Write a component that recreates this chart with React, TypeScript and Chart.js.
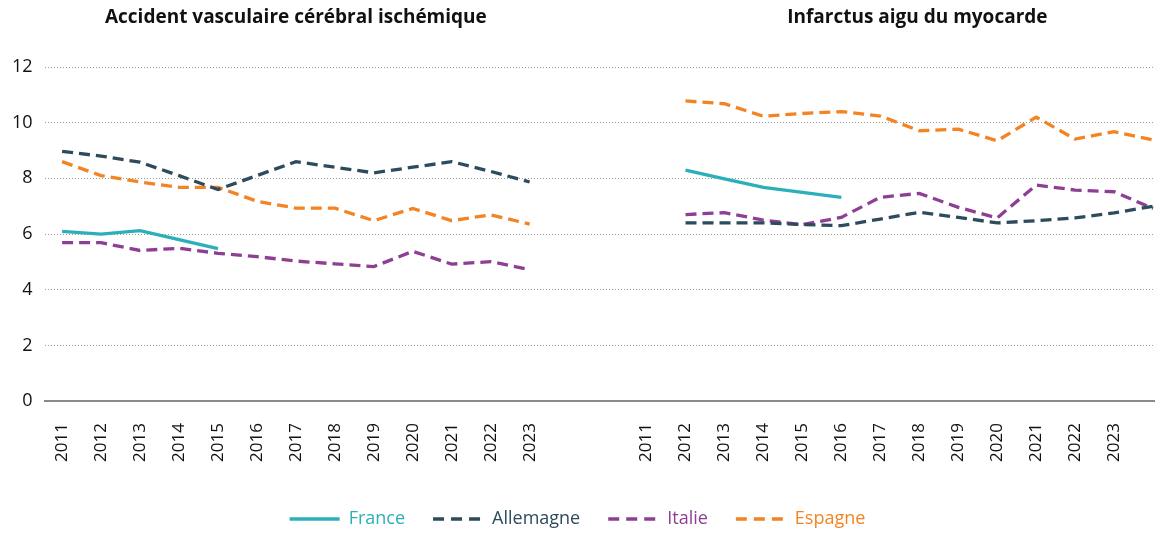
import React, { useEffect, useRef } from 'react';
import { Chart, registerables } from 'chart.js';

Chart.register(...registerables);

const years = ['2011', '2012', '2013', '2014', '2015', '2016', '2017', '2018', '2019', '2020', '2021', '2022', '2023'];
// x-axis category labels: left panel, 2 empty gap slots, right panel, one trailing unlabeled slot
const xLabels = [...years, '', '', ...years, ''];
const panelTitles = ['Accident vasculaire cérébral ischémique', 'Infarctus aigu du myocarde'];
const panelTitleCenters = [6, 21.95];
const yTicks = [0, 2, 4, 6, 8, 10, 12];

// Accident vasculaire cérébral ischémique (starts at 2011)
const franceAVC = [6.1, 6.0, 6.12, 5.8, 5.48];
const allemagneAVC = [8.97, 8.8, 8.58, 8.1, 7.6, 8.1, 8.6, 8.4, 8.2, 8.4, 8.6, 8.25, 7.87];
const italieAVC = [5.69, 5.69, 5.41, 5.49, 5.31, 5.19, 5.03, 4.93, 4.83, 5.38, 4.92, 5.01, 4.72];
const espagneAVC = [8.6, 8.1, 7.87, 7.68, 7.68, 7.18, 6.93, 6.93, 6.48, 6.92, 6.48, 6.69, 6.36];

// Infarctus aigu du myocarde (plotted from the 2nd slot of the right panel)
const franceIAM = [8.3, 7.98, 7.68, 7.5, 7.32];
const allemagneIAM = [6.4, 6.4, 6.4, 6.34, 6.3, 6.54, 6.78, 6.6, 6.4, 6.48, 6.58, 6.76, 7.0];
const italieIAM = [6.7, 6.77, 6.5, 6.34, 6.6, 7.32, 7.46, 6.96, 6.58, 7.76, 7.58, 7.52, 6.92];
const espagneIAM = [10.78, 10.68, 10.23, 10.33, 10.4, 10.24, 9.71, 9.77, 9.35, 10.2, 9.41, 9.68, 9.38];

const leftStartIndex = 0;
const rightStartIndex = 16;

const FONT = '"Open Sans", "Noto Sans", sans-serif';

const series = [
  { name: 'France', left: franceAVC, right: franceIAM, color: '#2BB0B9', dash: [] as number[] },
  { name: 'Allemagne', left: allemagneAVC, right: allemagneIAM, color: '#2D4B5B', dash: [11, 6] },
  { name: 'Italie', left: italieAVC, right: italieIAM, color: '#8E3F94', dash: [11, 6] },
  { name: 'Espagne', left: espagneAVC, right: espagneIAM, color: '#F28423', dash: [11, 6] },
];

function buildPoints(left: number[], right: number[]) {
  const pts: { x: number; y: number | null }[] = [];
  left.forEach((v, i) => pts.push({ x: leftStartIndex + i, y: v }));
  pts.push({ x: 14, y: null });
  right.forEach((v, i) => pts.push({ x: rightStartIndex + i, y: v }));
  return pts;
}

const titlePlugin = {
  id: 'panelTitles',
  afterDraw(chart: any) {
    const { ctx } = chart;
    const xs = chart.scales.x;
    ctx.save();
    ctx.font = `bold 19px ${FONT}`;
    ctx.fillStyle = '#111';
    ctx.textAlign = 'center';
    ctx.textBaseline = 'middle';
    panelTitles.forEach((t, i) => {
      ctx.fillText(t, xs.getPixelForValue(panelTitleCenters[i]), 18);
    });
    ctx.restore();
  },
};

export default function App() {
  const ref = useRef<HTMLCanvasElement>(null);
  useEffect(() => {
    if (!ref.current) return;
    const chart = new Chart(ref.current, {
      type: 'line',
      data: {
        datasets: series.map((s) => ({
          label: s.name,
          data: buildPoints(s.left, s.right),
          borderColor: s.color,
          backgroundColor: s.color,
          borderWidth: 3.3,
          borderDash: s.dash,
          pointRadius: 0,
          pointHoverRadius: 0,
          tension: 0,
          spanGaps: false,
          fill: false,
        })),
      },
      options: {
        animation: false,
        responsive: true,
        maintainAspectRatio: false,
        layout: { padding: { top: 67, right: 0, left: 0, bottom: -5 } },
        plugins: {
          tooltip: { enabled: false },
          legend: {
            position: 'bottom',
            labels: {
              usePointStyle: true,
              pointStyleWidth: 50,
              boxHeight: 10,
              padding: 28,
              font: { family: FONT, size: 18 },
              generateLabels: () =>
                series.map((s, i) => ({
                  text: s.name,
                  fillStyle: s.color,
                  strokeStyle: s.color,
                  fontColor: s.color,
                  lineWidth: 3.5,
                  lineDash: s.dash.length ? [11, 7] : [],
                  pointStyle: 'line',
                  hidden: false,
                  datasetIndex: i,
                })),
            },
          },
        },
        scales: {
          x: {
            type: 'linear',
            min: -0.45,
            max: 28.05,
            grid: { display: false, drawTicks: false },
            border: { display: true, color: '#8a8a8a', width: 2 },
            afterFit: (axis: any) => {
              axis.height -= 2;
              axis.paddingRight = 0;
              axis.paddingLeft = 0;
            },
            ticks: {
              stepSize: 1,
              maxTicksLimit: 60,
              includeBounds: false,
              autoSkip: false,
              minRotation: 90,
              maxRotation: 90,
              padding: 22,
              color: '#111',
              font: { family: FONT, size: 17 },
              callback: (v: any) => xLabels[v as number] ?? '',
            },
          },
          y: {
            min: 0,
            max: 12,
            afterBuildTicks: (axis: any) => {
              axis.ticks = yTicks.map((v) => ({ value: v }));
            },
            grid: { color: '#9a9a9a', lineWidth: 1, drawTicks: false },
            border: { display: false, dash: [1, 2] },
            ticks: {
              padding: 12,
              color: '#111',
              font: { family: FONT, size: 18 },
            },
          },
        },
      },
      plugins: [titlePlugin],
    } as any);
    return () => chart.destroy();
  }, []);
  return (
    <div style={{ position: 'fixed', left: 0, top: 0, width: 1155, height: 533 }}>
      <canvas ref={ref} />
    </div>
  );
}
